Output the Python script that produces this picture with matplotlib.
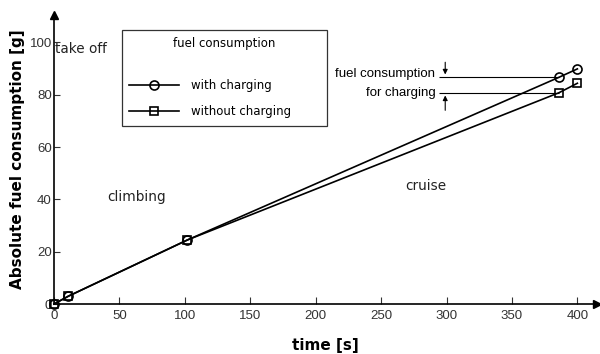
import matplotlib.pyplot as plt
import numpy as np

# data
time_s = [0, 11, 102, 386, 400]
with_charging = [0, 3.0, 24.5, 86.7, 89.9]
without_charging = [0, 3.0, 24.5, 80.8, 84.4]

x_ticks = [0, 50, 100, 150, 200, 250, 300, 350, 400]
y_ticks = [0, 20, 40, 60, 80, 100]

phases = ["take off", "climbing", "cruise"]
phase_pos = [(1, 97.5), (63, 41), (284, 45)]

narrow = "Liberation Sans"

fig = plt.figure(figsize=(6, 3.54), dpi=100)
ax = fig.add_axes([0.09, 0.1412, 0.905, 0.8164])

ax.plot(time_s, with_charging, color="black", lw=1.2, marker="o", ms=6.5,
        mfc="none", mec="black", mew=1.2, label="with charging", clip_on=False, zorder=3)
ax.plot(time_s, without_charging, color="black", lw=1.2, marker="s", ms=5.5,
        mfc="none", mec="black", mew=1.2, label="without charging", clip_on=False, zorder=3)

ax.set_xlim(0, 415)
ax.set_ylim(0, 110.5)

# axis arrows
for s in ["top", "right"]:
    ax.spines[s].set_visible(False)
for s in ["left", "bottom"]:
    ax.spines[s].set_linewidth(1.2)
ax.plot(1, 0, ">k", ms=6, transform=ax.get_yaxis_transform(), clip_on=False)
ax.plot(0, 1, "^k", ms=6, transform=ax.get_xaxis_transform(), clip_on=False)

ax.set_xticks(x_ticks)
ax.set_yticks(y_ticks)
ax.tick_params(axis="x", direction="in", length=5, width=0.8, pad=4.5, colors="#333333")
ax.tick_params(axis="y", direction="in", length=4, width=0.8, pad=1.5, colors="#333333")
for lab in ax.get_xticklabels() + ax.get_yticklabels():
    lab.set_family(narrow)
    lab.set_fontsize(9.5)
    lab.set_color("#333333")

ax.set_xlabel("time [s]", fontsize=11, fontweight="bold", labelpad=11)
ax.set_ylabel("Absolute fuel consumption [g]", fontsize=11, fontweight="bold", labelpad=3)

for name, (px, py) in zip(phases, phase_pos):
    ha = "left" if name == "take off" else "center"
    ax.text(px, py, name, fontsize=9.8, ha=ha, va="center", color="#222222")

# fuel consumption for charging marker
ax.hlines([with_charging[-2], without_charging[-2]], 294, time_s[-2], color="black", lw=0.8)
ax.annotate("", xy=(299, with_charging[-2]), xytext=(299, 93.5),
            arrowprops=dict(arrowstyle="-|>", color="black", lw=0.8, mutation_scale=7))
ax.annotate("", xy=(299, without_charging[-2]), xytext=(299, 73.0),
            arrowprops=dict(arrowstyle="-|>", color="black", lw=0.8, mutation_scale=7))
ax.text(291.5, 88.0, "fuel consumption", family=narrow, fontsize=9.5, ha="right", va="center")
ax.text(291.5, 80.6, "for charging", family=narrow, fontsize=9.5, ha="right", va="center")

leg = ax.legend(title="fuel consumption\n", loc="upper left",
                bbox_to_anchor=(122 / 600, 1 - 30 / 354 - 0.1, 205 / 600, 0.1),
                bbox_transform=fig.transFigure, mode="expand",
                fontsize=8.5, title_fontsize=8.5, frameon=True, fancybox=False,
                edgecolor="black", handlelength=4.2, labelspacing=1.15,
                borderpad=0.62, handletextpad=1.0, borderaxespad=0)
leg.get_frame().set_linewidth(0.9)

fig.savefig("out.png", dpi=100)
